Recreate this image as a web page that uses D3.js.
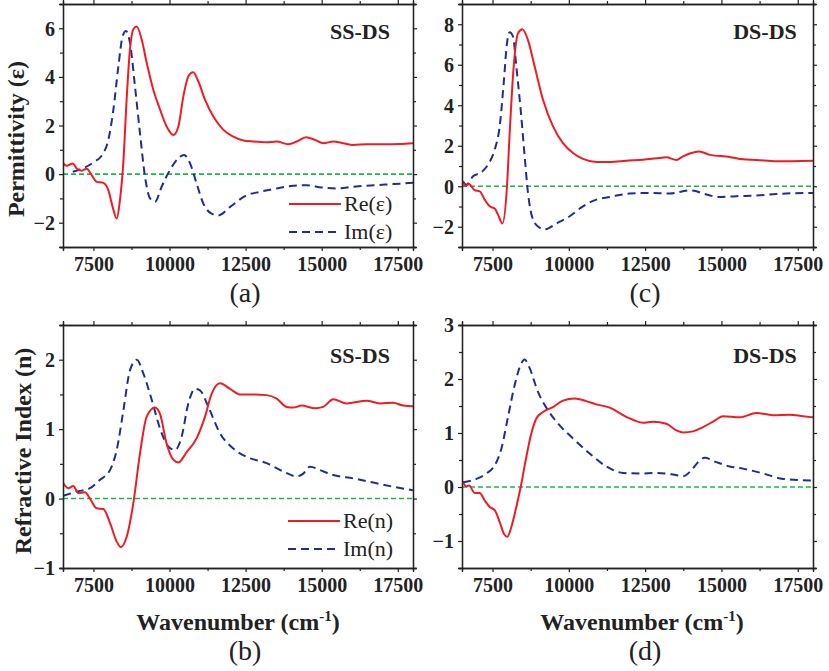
<!DOCTYPE html>
<html>
<head>
<meta charset="utf-8">
<script src="https://cdn.jsdelivr.net/npm/d3@7/dist/d3.min.js"></script>
<style>
  html, body { margin: 0; padding: 0; background: #fff; }
  svg { display: block; }
  text { font-family: "Liberation Serif", "Times New Roman", serif; }
</style>
</head>
<body>
<svg id="chart" width="829" height="671"></svg>
<script>
// ---------------- Data ----------------
const xDomain = [6500, 18000];
const xTicks = [7500, 10000, 12500, 15000, 17500];
const xMinorTicks = [8750, 11250, 13750, 16250];

// Panel (a): SS-DS permittivity
const aRe = [[6510,0.44],[6620,0.34],[6820,0.44],[6950,0.23],[7115,0.14],[7280,0.22],[7440,-0.04],[7605,-0.32],[7825,-0.36],[7990,-0.66],[8130,-1.35],[8265,-1.83],[8370,-1.08],[8480,0.44],[8590,3.06],[8700,5.13],[8810,5.96],[8920,6.07],[9085,5.54],[9250,4.58],[9465,3.48],[9690,2.65],[9905,1.96],[10125,1.61],[10290,1.96],[10455,3.2],[10620,4.03],[10780,4.19],[10945,3.82],[11165,3.06],[11440,2.37],[11770,1.82],[12100,1.54],[12425,1.38],[12750,1.34],[13190,1.31],[13520,1.34],[13900,1.23],[14180,1.34],[14485,1.52],[14780,1.41],[15055,1.27],[15380,1.34],[15710,1.27],[16040,1.2],[16480,1.23],[17025,1.23],[17575,1.24],[18000,1.27]];
const aIm = [[6820,0.1],[7060,0.19],[7500,0.48],[7825,0.86],[7990,1.41],[8155,2.65],[8320,4.44],[8460,5.68],[8570,5.89],[8700,5.41],[8865,3.61],[9030,1.68],[9195,-0.11],[9360,-1.0],[9525,-1.14],[9740,-0.52],[10015,0.17],[10290,0.65],[10475,0.79],[10675,0.44],[10890,-0.39],[11110,-1.21],[11385,-1.63],[11600,-1.7],[11990,-1.35],[12535,-0.87],[12975,-0.73],[13520,-0.59],[14070,-0.48],[14505,-0.46],[15000,-0.55],[15490,-0.59],[16040,-0.52],[16700,-0.46],[17360,-0.41],[18000,-0.36]];

// Panel (c): DS-DS permittivity
const cRe = [[6533,0.2],[6621,0.02],[6730,0.11],[6916,-0.2],[7080,-0.25],[7244,-0.66],[7408,-0.99],[7572,-1.1],[7681,-1.4],[7824,-1.84],[7974,0],[8062,2.63],[8193,5.91],[8335,7.55],[8479,7.75],[8662,7.22],[8881,5.91],[9154,4.27],[9481,2.96],[9809,2.13],[10137,1.64],[10464,1.35],[10902,1.2],[11339,1.2],[11885,1.26],[12430,1.31],[12976,1.4],[13195,1.43],[13523,1.3],[13741,1.48],[13960,1.62],[14280,1.72],[14617,1.55],[15272,1.45],[15709,1.33],[16146,1.3],[16801,1.23],[18000,1.26]];
const cIm = [[6533,0.25],[6644,0.08],[6860,0.49],[7135,0.69],[7353,1.07],[7572,1.81],[7735,2.96],[7866,5.09],[7974,7.06],[8062,7.6],[8171,7.39],[8280,5.91],[8422,3.78],[8553,1.48],[8662,-0.33],[8826,-1.64],[9044,-2.05],[9209,-2.13],[9591,-1.84],[10028,-1.48],[10464,-0.99],[10902,-0.66],[11339,-0.53],[11994,-0.36],[12649,-0.33],[13304,-0.36],[13960,-0.2],[14180,-0.25],[14398,-0.36],[14945,-0.53],[15491,-0.49],[16146,-0.46],[16801,-0.38],[18000,-0.33]];

// Panel (b): SS-DS refractive index
const bRe = [[6510,0.22],[6674,0.15],[6838,0.18],[7003,0.08],[7223,0.09],[7387,0],[7607,-0.14],[7826,-0.15],[8044,-0.35],[8265,-0.62],[8396,-0.7],[8593,-0.55],[8810,-0.07],[9030,0.65],[9250,1.18],[9523,1.31],[9687,1.22],[9906,0.79],[10124,0.56],[10288,0.52],[10564,0.67],[10893,0.87],[11166,1.18],[11386,1.51],[11659,1.66],[11987,1.58],[12316,1.5],[12752,1.5],[13190,1.49],[13520,1.44],[13848,1.32],[14067,1.31],[14343,1.34],[14780,1.3],[15052,1.32],[15380,1.43],[15819,1.37],[16476,1.41],[16914,1.37],[17352,1.38],[17681,1.34],[18000,1.33]];
const bIm = [[6510,0.04],[6950,0.1],[7387,0.15],[7716,0.27],[8044,0.41],[8265,0.7],[8484,1.27],[8701,1.85],[8922,2.0],[9141,1.8],[9417,1.42],[9687,1.01],[9961,0.75],[10180,0.7],[10398,0.89],[10617,1.37],[10837,1.58],[11001,1.56],[11276,1.32],[11659,0.94],[12096,0.72],[12536,0.6],[13190,0.51],[13738,0.39],[14177,0.32],[14396,0.36],[14615,0.46],[14943,0.41],[15380,0.34],[16040,0.29],[16695,0.23],[17352,0.17],[18000,0.12]];

// Panel (d): DS-DS refractive index
const dRe = [[6533,0.09],[6644,0.01],[6730,0.03],[6916,-0.11],[7080,-0.11],[7244,-0.25],[7408,-0.37],[7572,-0.43],[7735,-0.65],[7877,-0.87],[7986,-0.92],[8117,-0.74],[8280,-0.37],[8444,0.06],[8608,0.56],[8771,0.99],[8935,1.27],[9154,1.39],[9481,1.48],[9809,1.6],[10192,1.64],[10574,1.59],[10902,1.53],[11339,1.47],[11885,1.3],[12430,1.19],[12758,1.21],[13195,1.17],[13523,1.05],[13741,1.01],[14069,1.03],[14398,1.11],[14726,1.21],[15054,1.31],[15600,1.29],[16146,1.37],[16692,1.33],[17238,1.34],[17675,1.31],[18000,1.29]];
const dIm = [[6533,0.09],[6971,0.15],[7299,0.25],[7572,0.4],[7790,0.71],[8008,1.3],[8226,1.89],[8444,2.29],[8553,2.36],[8717,2.2],[8990,1.76],[9318,1.42],[9700,1.14],[10137,0.9],[10683,0.62],[11230,0.38],[11776,0.26],[12322,0.25],[12868,0.26],[13414,0.23],[13741,0.2],[14014,0.31],[14233,0.46],[14452,0.54],[14835,0.46],[15272,0.38],[15709,0.34],[16364,0.25],[17020,0.15],[18000,0.12]];

const panelLabels = ["(a)", "(b)", "(c)", "(d)"];
const sampleLabels = ["SS-DS", "SS-DS", "DS-DS", "DS-DS"];
const legendEps = ["Re(\u03B5)", "Im(\u03B5)"];
const legendN = ["Re(n)", "Im(n)"];

// ---------------- Layout ----------------
const svg = d3.select("#chart");
const RED = "#ee1c25", BLUE = "#1f2e8f", GREEN = "#1fb24a";

const panels = [
  { id: "a", re: aRe, im: aIm, yDomain: [-3, 7], yTicks: [-2,0,2,4,6], yMinor: [-3,-1,1,3,5,7],
    box: {l: 63, r: 413, t: 4, b: 247}, tag: sampleLabels[0], tagX: 360, tagY: 39,
    letter: panelLabels[0], letX: 245, letY: 302, legend: legendEps, legX: 289, legY: 204 },
  { id: "c", re: cRe, im: cIm, yDomain: [-3, 9], yTicks: [-2,0,2,4,6,8], yMinor: [-3,-1,1,3,5,7,9],
    box: {l: 462, r: 813, t: 4, b: 247}, tag: sampleLabels[2], tagX: 765, tagY: 39,
    letter: panelLabels[2], letX: 645, letY: 302 },
  { id: "b", re: bRe, im: bIm, yDomain: [-1, 2.5], yTicks: [-1,0,1,2], yMinor: [-0.5,0.5,1.5,2.5],
    box: {l: 63, r: 413, t: 325, b: 568}, tag: sampleLabels[1], tagX: 360, tagY: 363,
    letter: panelLabels[1], letX: 245, letY: 660, legend: legendN, legX: 288, legY: 521 },
  { id: "d", re: dRe, im: dIm, yDomain: [-1.5, 3], yTicks: [-1,0,1,2,3], yMinor: [-1.5,-0.5,0.5,1.5,2.5],
    box: {l: 462, r: 813, t: 325, b: 568}, tag: sampleLabels[3], tagX: 765, tagY: 363,
    letter: panelLabels[3], letX: 645, letY: 660 }
];

panels.forEach((p, i) => {
  const {l, r, t, b} = p.box;
  const x = d3.scaleLinear().domain(xDomain).range([l, r]);
  const y = d3.scaleLinear().domain(p.yDomain).range([b, t]);
  const g = svg.append("g");

  const clipId = "clip-" + p.id;
  svg.append("clipPath").attr("id", clipId)
    .append("rect").attr("x", l).attr("y", t).attr("width", r - l).attr("height", b - t);

  // zero line
  g.append("line")
    .attr("x1", l).attr("x2", r).attr("y1", y(0)).attr("y2", y(0))
    .attr("stroke", GREEN).attr("stroke-width", 1.6).attr("stroke-dasharray", "5,3");

  const line = d3.line().x(d => x(d[0])).y(d => y(d[1])).curve(d3.curveMonotoneX);
  const lg = g.append("g").attr("clip-path", `url(#${clipId})`);
  lg.append("path").datum(p.im).attr("d", line)
    .attr("fill", "none").attr("stroke", BLUE).attr("stroke-width", 2)
    .attr("stroke-dasharray", "8,5");
  lg.append("path").datum(p.re).attr("d", line)
    .attr("fill", "none").attr("stroke", RED).attr("stroke-width", 2);

  // axes (ticks outward on all four sides)
  const fmt = d3.format("d");
  const axB = d3.axisBottom(x).tickValues(xTicks).tickSize(4).tickPadding(6).tickFormat(fmt);
  const gB = g.append("g").attr("transform", `translate(0,${b})`).call(axB);
  const axBm = d3.axisBottom(x).tickValues(xMinorTicks).tickSize(3).tickFormat("");
  g.append("g").attr("transform", `translate(0,${b})`).call(axBm);
  g.append("g").attr("transform", `translate(0,${t})`).call(d3.axisTop(x).tickValues(xTicks).tickSize(4).tickFormat(""));
  g.append("g").attr("transform", `translate(0,${t})`).call(d3.axisTop(x).tickValues(xMinorTicks).tickSize(3).tickFormat(""));

  const axL = d3.axisLeft(y).tickValues(p.yTicks).tickSize(4).tickPadding(4).tickFormat(fmt);
  const gL = g.append("g").attr("transform", `translate(${l},0)`).call(axL);
  g.append("g").attr("transform", `translate(${l},0)`).call(d3.axisLeft(y).tickValues(p.yMinor).tickSize(3).tickFormat(""));
  g.append("g").attr("transform", `translate(${r},0)`).call(d3.axisRight(y).tickValues(p.yTicks).tickSize(4).tickFormat(""));
  g.append("g").attr("transform", `translate(${r},0)`).call(d3.axisRight(y).tickValues(p.yMinor).tickSize(3).tickFormat(""));

  g.selectAll(".domain").attr("stroke", "#222").attr("stroke-width", 1.3);
  g.selectAll(".tick line").attr("stroke", "#222").attr("stroke-width", 1.2);
  g.selectAll(".tick text")
    .style("font-family", '"Liberation Serif", "Times New Roman", serif')
    .style("font-weight", "bold").style("font-size", "20px").attr("fill", "#222");
  gL.selectAll(".tick text").attr("dy", "0.34em");

  // sample tag
  g.append("text").attr("x", p.tagX).attr("y", p.tagY).attr("text-anchor", "middle")
    .style("font-weight", "bold").style("font-size", "22px").attr("fill", "#222").text(p.tag);

  // panel letter
  g.append("text").attr("x", p.letX).attr("y", p.letY).attr("text-anchor", "middle")
    .style("font-size", "28px").attr("fill", "#222").text(p.letter);

  // legend
  if (p.legend) {
    const ly = [p.legY, p.legY + 28];
    g.append("line").attr("x1", p.legX).attr("x2", p.legX + 52).attr("y1", ly[0]).attr("y2", ly[0])
      .attr("stroke", RED).attr("stroke-width", 2);
    g.append("line").attr("x1", p.legX).attr("x2", p.legX + 52).attr("y1", ly[1]).attr("y2", ly[1])
      .attr("stroke", BLUE).attr("stroke-width", 2).attr("stroke-dasharray", "8,5");
    p.legend.forEach((s, k) => {
      g.append("text").attr("x", p.legX + 55).attr("y", ly[k]).attr("dy", "0.32em")
        .style("font-size", "22px").attr("fill", "#222").text(s);
    });
  }
});

// axis titles
svg.append("text").attr("transform", "translate(24,139) rotate(-90)").attr("text-anchor", "middle")
  .style("font-weight", "bold").style("font-size", "24px").attr("fill", "#222").text("Permittivity (\u03B5)");
svg.append("text").attr("transform", "translate(31,451) rotate(-90)").attr("text-anchor", "middle")
  .style("font-weight", "bold").style("font-size", "24px").attr("fill", "#222").text("Refractive Index (n)");

[238, 642].forEach(cx => {
  const t = svg.append("text").attr("x", cx).attr("y", 630).attr("text-anchor", "middle")
    .style("font-weight", "bold").style("font-size", "24px").attr("fill", "#222");
  t.append("tspan").text("Wavenumber (cm");
  t.append("tspan").attr("dy", -9).style("font-size", "15px").text("-1");
  t.append("tspan").attr("dy", 9).text(")");
});
</script>
</body>
</html>
